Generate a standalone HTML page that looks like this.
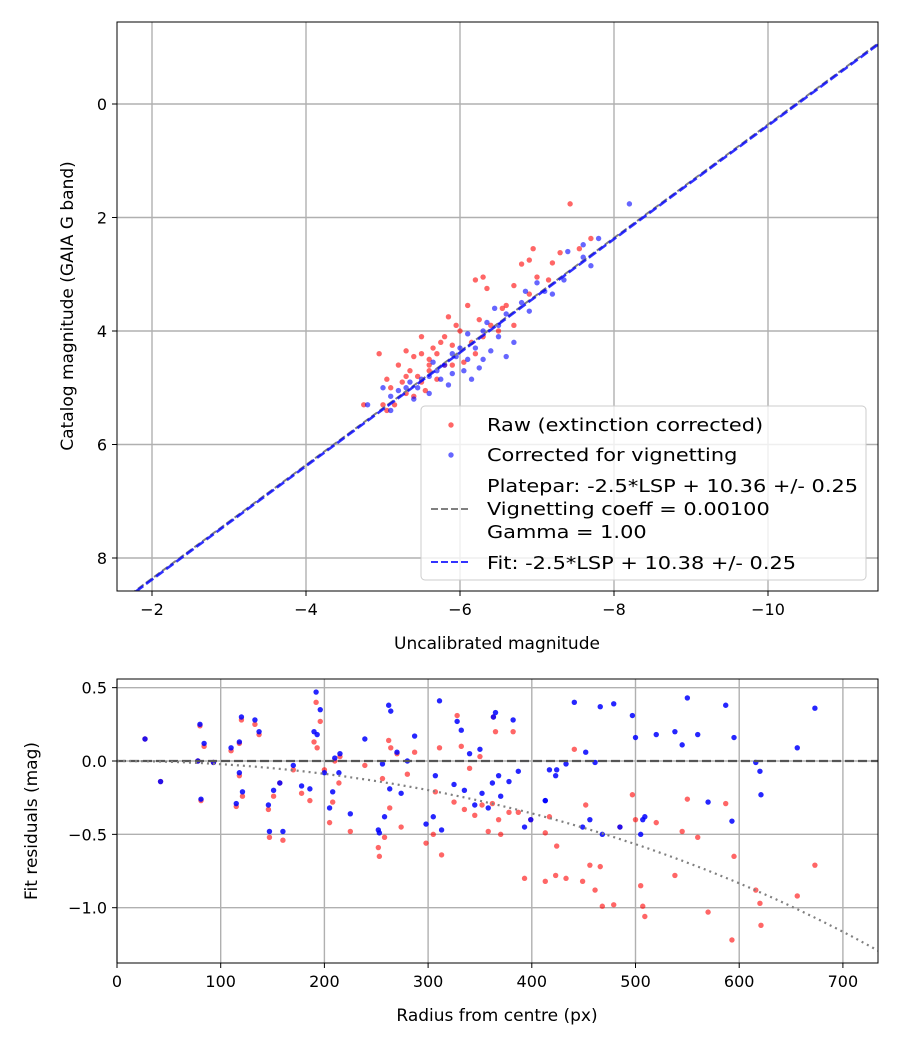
<!DOCTYPE html>
<html><head><meta charset="utf-8"><style>body{margin:0;background:#fff}svg{display:block;font-family:"DejaVu Sans","Liberation Sans",sans-serif}</style></head>
<body>
<svg id="c" width="900" height="1050"></svg>
<script>
const topXTicks=[-2,-4,-6,-8,-10];
const topYTicks=[0,2,4,6,8];
const botXTicks=[0,100,200,300,400,500,600,700];
const botYTicks=[0.5,0.0,-0.5,-1.0];
const botYLabels=["0.5","0.0","\u22120.5","\u22121.0"];
const fitIntercept=10.38;
const plateIntercept=10.36;
const vigCoeff=0.001;
const rawTop=[[-7.43,1.76],[-7.7,2.37],[-7.55,2.55],[-6.95,2.55],[-6.9,2.75],[-6.8,2.82],[-7.2,2.8],[-7.3,2.62],[-7.15,3.1],[-7.0,3.05],[-6.3,3.05],[-6.2,3.1],[-6.35,3.25],[-6.55,3.6],[-6.6,3.55],[-6.1,3.55],[-5.85,3.75],[-5.95,3.9],[-5.8,4.1],[-6.0,4.0],[-6.15,4.2],[-6.3,4.1],[-6.4,3.9],[-5.5,4.1],[-5.5,4.4],[-5.3,4.35],[-5.4,4.45],[-5.6,4.5],[-5.7,4.4],[-5.2,4.6],[-5.35,4.7],[-5.45,4.8],[-5.6,4.7],[-5.5,4.9],[-5.7,4.85],[-5.8,4.6],[-5.9,4.6],[-6.05,4.55],[-6.2,4.4],[-5.25,4.9],[-5.05,4.85],[-5.1,5.0],[-4.95,4.4],[-5.3,5.1],[-5.4,5.15],[-5.55,5.05],[-5.15,5.3],[-5.0,5.3],[-4.75,5.3],[-5.05,5.4],[-5.65,4.3],[-6.5,4.0],[-6.7,3.9],[-5.75,4.2],[-5.3,4.8],[-5.6,4.6],[-5.9,4.25],[-6.25,3.8],[-6.9,3.35],[-6.7,3.2]];
const corrTop=[[-8.2,1.76],[-7.8,2.37],[-7.6,2.48],[-7.4,2.6],[-7.6,2.7],[-7.7,2.85],[-7.35,3.1],[-7.0,3.15],[-7.1,3.3],[-6.8,3.5],[-6.6,3.7],[-6.45,3.6],[-6.35,3.85],[-6.3,4.0],[-6.1,4.05],[-6.5,4.1],[-6.7,4.2],[-6.2,4.3],[-6.0,4.3],[-5.9,4.4],[-6.1,4.5],[-6.3,4.5],[-5.8,4.6],[-5.7,4.7],[-5.6,4.8],[-5.9,4.75],[-6.05,4.7],[-5.5,4.85],[-5.45,5.0],[-5.3,5.0],[-5.2,5.05],[-5.6,5.1],[-5.4,5.2],[-5.0,5.0],[-5.1,5.15],[-4.8,5.3],[-5.1,5.4],[-6.4,4.35],[-6.6,4.45],[-5.75,4.85],[-6.15,4.85],[-6.85,3.3],[-7.2,3.35],[-6.9,3.65],[-6.5,3.9],[-5.95,4.45],[-5.65,4.55],[-6.25,4.65],[-5.85,4.95],[-5.35,4.9]];
const radii=[27,42,80,81,84,78,93,110,115,118,120,118,121,133,137,146,147,151,160,157,170,178,186,192,196,190,193,200,205,208,214,215,210,225,239,253,252,258,256,262,264,263,270,274,280,287,298,305,307,311,313,325,328,332,335,340,345,350,352,358,362,365,363,368,370,378,382,387,393,399,413,413,417,424,423,433,441,449,452,456,461,466,468,479,485,497,500,505,507,509,520,538,545,550,560,570,587,593,595,616,620,621,656,673];
const rawRes=[.15,-.14,.24,-.27,.10,0,-.01,.07,-.31,-.10,.28,.12,-.24,.25,.18,-.33,-.52,-.24,-.54,-.15,-.06,-.22,-.27,.40,.27,.13,.09,-.06,-.42,-.28,-.15,.03,0,-.48,-.03,-.65,-.59,-.52,-.12,.14,.09,-.32,.05,-.45,-.09,.06,-.56,-.50,-.21,.09,-.64,-.28,.31,.1,-.33,-.05,-.37,.03,-.30,-.48,-.29,.20,.3,-.40,-.50,-.35,.20,-.35,-.80,-.40,-.82,-.49,-.38,-.58,-.78,-.80,.08,-.82,-.30,-.71,-.88,-.72,-.99,-.98,-.45,-.23,-.40,-.85,-.99,-1.06,-.42,-.78,-.48,-.26,-.52,-1.03,-.29,-1.22,-.65,-.88,-.97,-1.12,-.92,-.71];
const corrRes=[.15,-.14,.25,-.26,.12,0,-.01,.09,-.29,-.08,.30,.13,-.21,.28,.20,-.30,-.48,-.20,-.48,-.15,-.03,-.17,-.19,.47,.35,.20,.18,-.08,-.32,-.21,-.08,.05,.02,-.36,.15,-.49,-.47,-.38,-.02,.38,.34,-.19,.06,-.22,0,.17,-.43,-.38,-.10,.41,-.47,-.16,.27,.21,-.20,.05,-.30,.08,-.22,-.32,-.15,.33,.30,-.10,-.24,-.14,.28,-.07,-.45,-.40,-.27,-.27,-.06,-.06,-.10,-.02,.40,-.45,.06,-.40,-.01,.37,-.50,.39,-.45,.31,.16,-.50,-.40,-.38,.18,.20,.11,.43,.18,-.28,.38,-.41,.16,-.01,-.07,-.23,.09,.36];

const NS="http://www.w3.org/2000/svg";const svg=document.getElementById('c');
function el(t,a,p){const e=document.createElementNS(NS,t);for(const k in a)e.setAttribute(k,a[k]);(p||svg).appendChild(e);return e;}
const T={l:117,r:878,t:22,b:591};
function txf(v){return 152+(-2-v)*77;}
function tyf(v){return 104+v*56.75;}
const B={l:117,r:878,t:679,b:963};
function bxf(v){return 117+v*1.037;}
function byf(v){return 761-v*146.7;}
const gTop=el('g',{}); 
const gBot=el('g',{}); 
const cp=el('defs',{});
el('rect',{x:T.l,y:T.t,width:T.r-T.l,height:T.b-T.t},el('clipPath',{id:'ct'},cp));
el('rect',{x:B.l,y:B.t,width:B.r-B.l,height:B.b-B.t},el('clipPath',{id:'cb'},cp));
const fmt=v=>(v<0?"\u2212":"")+Math.abs(v);
const GC='#b0b0b0',GW=1.4;
topXTicks.forEach(v=>{const x=txf(v);
 const g=el('line',{x1:x,x2:x,y1:T.t,y2:T.b,stroke:GC,'stroke-width':GW},gTop);
 el('line',{x1:x,x2:x,y1:T.b,y2:T.b+5,stroke:'#000'},gTop);
 const t=el('text',{x:x,y:T.b+24,'text-anchor':'middle','font-size':16},gTop);t.textContent=fmt(v);});
topYTicks.forEach(v=>{const y=tyf(v);
 el('line',{x1:T.l,x2:T.r,y1:y,y2:y,stroke:GC,'stroke-width':GW},gTop);
 el('line',{x1:T.l-5,x2:T.l,y1:y,y2:y,stroke:'#000'},gTop);
 const t=el('text',{x:T.l-10,y:y+6,'text-anchor':'end','font-size':16},gTop);t.textContent=fmt(v);});
const pt=el('g',{'clip-path':'url(#ct)'},gTop);
rawTop.forEach(p=>{const c=el('circle',{cx:txf(p[0]),cy:tyf(p[1]),r:2.7,fill:'red','fill-opacity':0.6},pt);});
corrTop.forEach(p=>{const c=el('circle',{cx:txf(p[0]),cy:tyf(p[1]),r:2.7,fill:'blue','fill-opacity':0.6},pt);});
const x0=-1.4,x1=-11.6;
let l=el('line',{x1:txf(x0),y1:tyf(x0+plateIntercept),x2:txf(x1),y2:tyf(x1+plateIntercept),stroke:'#808080','stroke-width':2,'stroke-dasharray':'7,3'},pt);
l=el('line',{x1:txf(x0),y1:tyf(x0+fitIntercept),x2:txf(x1),y2:tyf(x1+fitIntercept),stroke:'blue','stroke-opacity':0.8,'stroke-width':2.6,'stroke-dasharray':'9,3.5'},pt);
el('rect',{x:T.l,y:T.t,width:T.r-T.l,height:T.b-T.t,fill:'none',stroke:'#000','stroke-width':1},gTop);
let t=el('text',{x:497,y:649,'text-anchor':'middle','font-size':17},gTop);t.textContent='Uncalibrated magnitude';
t=el('text',{x:0,y:0,'text-anchor':'middle','font-size':17,transform:'translate(73,306) rotate(-90)'},gTop);t.textContent='Catalog magnitude (GAIA G band)';
const lg=el('g',{},gTop);
el('rect',{x:421,y:406,width:445,height:174,rx:4,fill:'#fff','fill-opacity':0.8,stroke:'#ccc'},lg);
el('circle',{cx:451,cy:425,r:2.7,fill:'red','fill-opacity':0.6},lg);
el('circle',{cx:451,cy:455,r:2.7,fill:'blue','fill-opacity':0.6},lg);
el('line',{x1:431,x2:471,y1:509,y2:509,stroke:'#808080','stroke-width':2,'stroke-dasharray':'7,3'},lg);
el('line',{x1:431,x2:471,y1:562,y2:562,stroke:'blue','stroke-opacity':0.8,'stroke-width':2,'stroke-dasharray':'7,3'},lg);
[["Raw (extinction corrected)",431],["Corrected for vignetting",461],["Platepar: -2.5*LSP + 10.36 +/- 0.25",492],["Vignetting coeff = 0.00100",515],["Gamma = 1.00",538],["Fit: -2.5*LSP + 10.38 +/- 0.25",569]].forEach(a=>{const e=el('text',{x:487,y:a[1],'font-size':18,textLength:null},lg);e.removeAttribute('textLength');e.textContent=a[0];});
// widen legend text to match reference width
lg.querySelectorAll('text').forEach(e=>{e.setAttribute('transform','translate(487,0) scale(1.16,1) translate(-487,0)');});
botXTicks.forEach(v=>{const x=bxf(v);
 el('line',{x1:x,x2:x,y1:B.t,y2:B.b,stroke:GC,'stroke-width':GW},gBot);
 el('line',{x1:x,x2:x,y1:B.b,y2:B.b+5,stroke:'#000'},gBot);
 const e=el('text',{x:x,y:B.b+24,'text-anchor':'middle','font-size':16},gBot);e.textContent=v;});
botYTicks.forEach((v,i)=>{const y=byf(v);
 el('line',{x1:B.l,x2:B.r,y1:y,y2:y,stroke:GC,'stroke-width':GW},gBot);
 el('line',{x1:B.l-5,x2:B.l,y1:y,y2:y,stroke:'#000'},gBot);
 const e=el('text',{x:B.l-10,y:y+6,'text-anchor':'end','font-size':16},gBot);e.textContent=botYLabels[i];});
const pb=el('g',{'clip-path':'url(#cb)'},gBot);
radii.forEach((r,i)=>{const c=el('circle',{cx:bxf(r),cy:byf(rawRes[i]),r:2.7,fill:'red','fill-opacity':0.6},pb);});
radii.forEach((r,i)=>{const c=el('circle',{cx:bxf(r),cy:byf(corrRes[i]),r:2.7,fill:'blue','fill-opacity':0.85},pb);});
l=el('line',{x1:B.l,x2:B.r,y1:byf(0),y2:byf(0),stroke:'#555','stroke-width':2.2,'stroke-dasharray':'9,4'},pb);
let d='';for(let r=0;r<=740;r+=5){const v=10*Math.log10(Math.cos(vigCoeff*r));d+=(r?'L':'M')+bxf(r).toFixed(1)+','+byf(v).toFixed(1);}
l=el('path',{d:d,fill:'none',stroke:'#808080','stroke-width':2.2,'stroke-dasharray':'2,4'},pb);
el('rect',{x:B.l,y:B.t,width:B.r-B.l,height:B.b-B.t,fill:'none',stroke:'#000'},gBot);
t=el('text',{x:497,y:1021,'text-anchor':'middle','font-size':17},gBot);t.textContent='Radius from centre (px)';
t=el('text',{x:0,y:0,'text-anchor':'middle','font-size':17,transform:'translate(37,821) rotate(-90)'},gBot);t.textContent='Fit residuals (mag)';
</script>
</body></html>
